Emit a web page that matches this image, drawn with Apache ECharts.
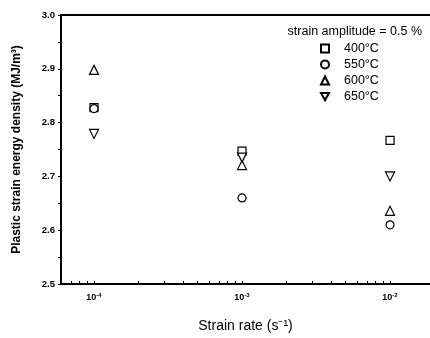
<!DOCTYPE html>
<html>
<head>
  <meta charset="utf-8">
  <script src="https://cdn.jsdelivr.net/npm/echarts@6/dist/echarts.min.js"></script>
  <style>
    html, body { margin: 0; padding: 0; background: #fff; }
  </style>
</head>
<body>
  <div id="main" style="width: 430px;height:338px;"></div>
  <script>
    // strain rates (s^-1)
    var rates = [1e-4, 1e-3, 1e-2];
    var e400 = [2.828, 2.747, 2.767];
    var e550 = [2.826, 2.660, 2.610];
    var e600 = [2.898, 2.721, 2.636];
    var e650 = [2.779, 2.735, 2.700];
    var tempNames = ['400°C', '550°C', '600°C', '650°C'];
    var yTicks = [2.5, 2.6, 2.7, 2.8, 2.9, 3.0];
    var xExps = [-4, -3, -2];

    var minorX = [];
    xExps.concat([-5]).forEach(function (e) {
      for (var k = 2; k < 10; k++) minorX.push(e + Math.log10(k));
    });

    function pts(arr) {
      return rates.map(function (r, i) { return [Math.log10(r), arr[i]]; });
    }

    var downTri = 'path://M0,0 L10,0 L5,9 Z';
    var symbols = ['rect', 'circle', 'triangle', downTri];
    var sizes = [8, 8, 9, 9];
    var sets = [e400, e550, e600, e650];

    var myChart = echarts.init(document.getElementById('main'));
    var font = 'Liberation Sans, Arial, sans-serif';
    var option = {
      animation: false,
      title: {
        text: 'strain amplitude = 0.5 %',
        right: 3, top: 20,
        textStyle: { fontFamily: font, fontSize: 12.5, fontWeight: 'normal', color: '#000' }
      },
      legend: {
        data: tempNames,
        orient: 'vertical',
        left: 315, top: 37,
        itemGap: 3,
        itemWidth: 8, itemHeight: 8,
        textStyle: { fontFamily: font, fontSize: 12.5, color: '#000', padding: [0, 0, 0, 10] }
      },
      grid: { left: 61, right: 0, top: 15, bottom: 54 },
      xAxis: [{
        type: 'value',
        min: -4.223, max: -1.73,
        name: 'Strain rate (s\u207B\u00B9)',
        nameLocation: 'middle',
        nameGap: 35,
        nameTextStyle: { fontFamily: font, fontSize: 14, color: '#000' },
        axisLine: { lineStyle: { color: '#000', width: 2 } },
        splitLine: { show: false },
        axisTick: { customValues: xExps.concat(minorX), inside: true, length: 3, lineStyle: { color: '#000' } },
        axisLabel: {
          customValues: xExps,
          margin: 8,
          formatter: function (v) { return '{b|10}{s|' + Math.round(v) + '}'; },
          rich: {
            b: { fontFamily: font, fontSize: 9, fontWeight: 'bold', color: '#000' },
            s: { fontFamily: font, fontSize: 6, fontWeight: 'bold', color: '#000', verticalAlign: 'top', padding: [0, 0, 5, 0] }
          }
        }
      }, {
        type: 'value',
        position: 'top',
        min: -4.223, max: -1.73,
        axisLine: { show: true, lineStyle: { color: '#000', width: 2 } },
        axisTick: { show: false },
        axisLabel: { show: false },
        splitLine: { show: false }
      }],
      yAxis: {
        type: 'value',
        min: 2.5, max: 3.0, interval: 0.1,
        name: 'Plastic strain energy density (MJ/m\u00B3)',
        nameLocation: 'middle',
        nameGap: 38,
        nameTextStyle: { fontFamily: font, fontSize: 12, fontWeight: 'bold', color: '#000' },
        axisLine: { show: true, lineStyle: { color: '#000', width: 2 } },
        axisTick: { length: 3, lineStyle: { color: '#000' } },
        minorTick: { show: true, splitNumber: 2, length: 3, lineStyle: { color: '#000' } },
        splitLine: { show: false },
        axisLabel: {
          margin: 6,
          fontFamily: font, fontSize: 9.5, fontWeight: 'bold', color: '#000',
          formatter: function (v) { return v.toFixed(1); }
        }
      },
      series: sets.map(function (s, i) {
        return {
          name: tempNames[i],
          type: 'scatter',
          symbol: symbols[i],
          symbolSize: sizes[i],
          itemStyle: { color: '#fff', borderColor: '#000', borderWidth: 1.2, opacity: 1 },
          data: pts(s)
        };
      })
    };
    myChart.setOption(option);
  </script>
</body>
</html>
